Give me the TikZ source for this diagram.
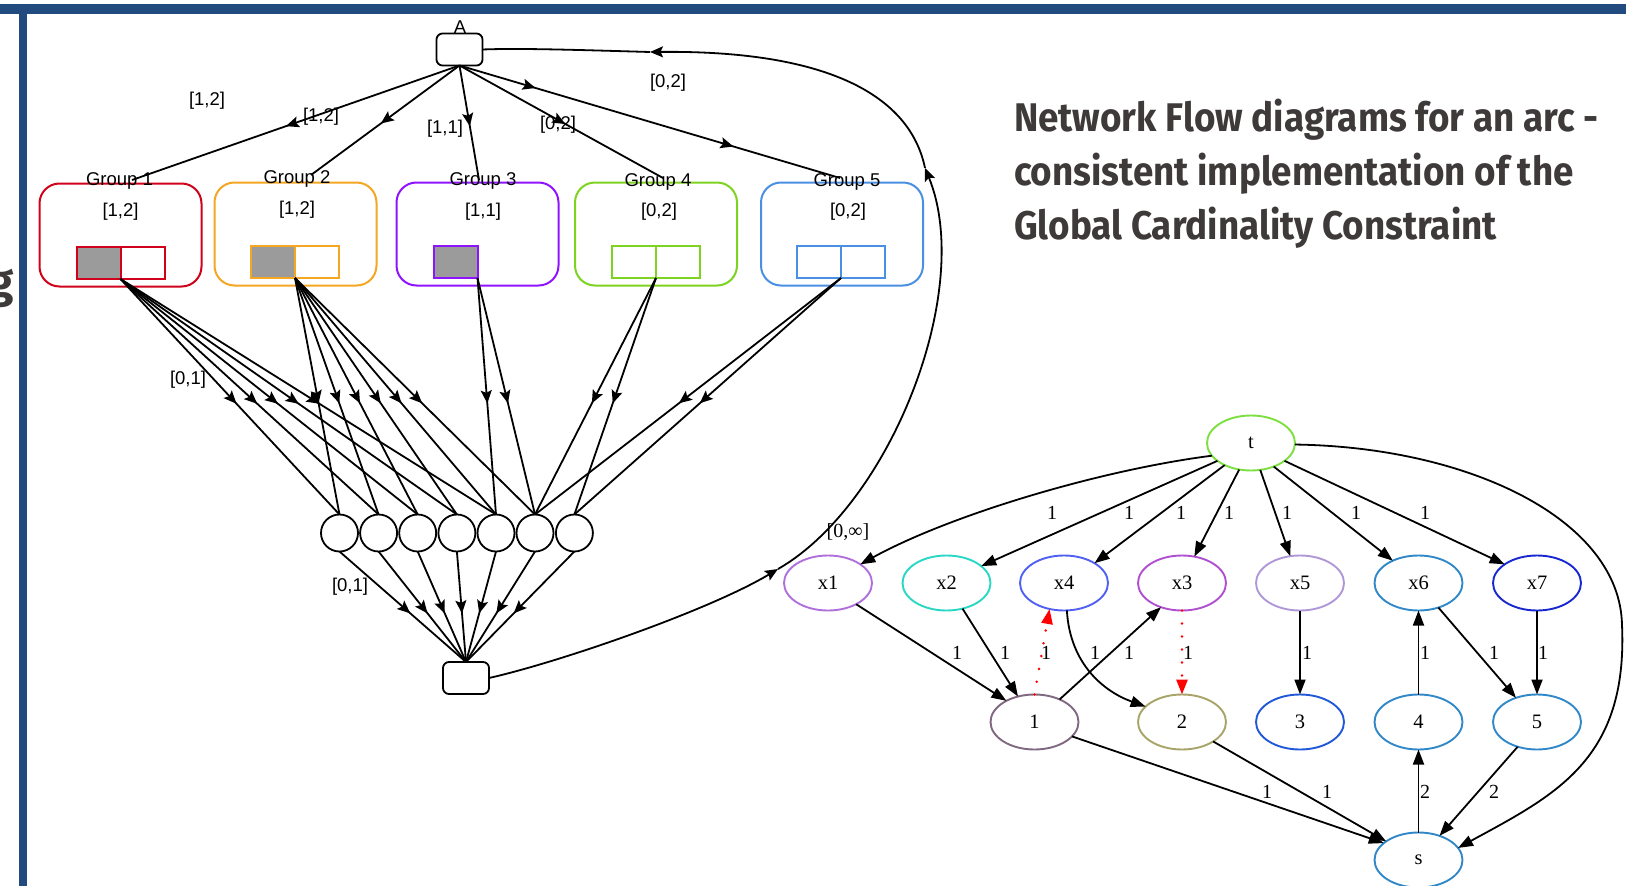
\documentclass[tikz,border=0pt]{standalone}
\usepackage{fontspec}
\setmainfont{Liberation Sans}
\newfontfamily\serifgv{Liberation Serif}
\newfontfamily\headfont{Fira Sans}
\usetikzlibrary{arrows.meta,decorations.markings,shapes.geometric}

\definecolor{framecol}{RGB}{33,74,126}
\definecolor{gone}{RGB}{208,2,27}
\definecolor{gtwo}{RGB}{245,166,35}
\definecolor{gthree}{RGB}{144,19,254}
\definecolor{gfour}{RGB}{126,211,33}
\definecolor{gfive}{RGB}{74,144,226}
\definecolor{cellgray}{RGB}{155,155,155}
\definecolor{titlegray}{RGB}{62,58,57}
\definecolor{ct}{RGB}{124,224,64}
\definecolor{cxone}{RGB}{176,112,220}
\definecolor{cxtwo}{RGB}{40,216,196}
\definecolor{cxfour}{RGB}{80,96,240}
\definecolor{cxthree}{RGB}{176,80,208}
\definecolor{cxfive}{RGB}{176,152,216}
\definecolor{csteel}{RGB}{48,136,200}
\definecolor{cxseven}{RGB}{24,40,208}
\definecolor{cnone}{RGB}{128,104,128}
\definecolor{cntwo}{RGB}{168,164,104}
\definecolor{cnthree}{RGB}{32,88,216}

\begin{document}
\begin{tikzpicture}[x=1pt,y=-1pt,
  every node/.style={inner sep=0pt,outer sep=0pt},
  sanslbl/.style={font=\fontsize{18.5}{18.5}\selectfont},
  grpbox/.style={draw,line width=2pt,rounded corners=20pt,minimum width=162pt,minimum height=103pt},
  cell/.style={draw,line width=2pt,minimum width=44pt,minimum height=32pt},
  vcirc/.style={circle,draw,line width=1.8pt,minimum size=37pt},
  rbox/.style={draw,line width=1.8pt,rounded corners=6pt,minimum width=46pt,minimum height=32pt},
  flow/.style={line width=1.8pt,postaction={decorate},
    decoration={markings,mark=at position #1 with {\arrow{Stealth[length=13pt,width=11pt,inset=2.5pt]}}}},
  flow/.default=0.53,
  flowtwo/.style={line width=1.8pt,postaction={decorate},
    decoration={markings,
      mark=at position 0.2 with {\arrow{Stealth[length=13pt,width=11pt,inset=2.5pt]}},
      mark=at position 0.72 with {\arrow{Stealth[length=13pt,width=11pt,inset=2.5pt]}}}},
  ret/.style={line width=1.8pt,-{Stealth[length=13pt,width=11pt,inset=2.5pt]}},
  plainline/.style={line width=1.8pt},
  gvnode/.style={ellipse,draw,line width=1.9pt,minimum width=88pt,minimum height=55pt,
    font=\serifgv\fontsize{20.5}{20.5}\selectfont},
  gvlbl/.style={font=\serifgv\fontsize{20}{20}\selectfont},
  gvedge/.style={line width=1.8pt,-{Triangle[length=15pt,width=11pt]}},
  reddot/.style={red,line width=2.8pt,line cap=round,dash pattern=on 0pt off 13pt,
    -{Triangle[length=15pt,width=11pt]}},
  titleline/.style={anchor=base west,text=titlegray}
]
\useasboundingbox (0,0) rectangle (1626,886);
\fill[white] (0,0) rectangle (1626,886);

% slide frame
\fill[framecol] (0,4) rectangle (1626,14);
\fill[framecol] (19,14) rectangle (27,886);
\node[anchor=base east,text=titlegray] (gfrag) at (14,297) {\headfont\bfseries\fontsize{46}{46}\selectfont g};

% title
\node[titleline] (title1) at (1014,131) {\scalebox{0.92}[1]{\headfont\bfseries\fontsize{40}{40}\selectfont Network Flow diagrams for an arc -}};
\node[titleline] (title2) at (1014,185) {\scalebox{0.92}[1]{\headfont\bfseries\fontsize{40}{40}\selectfont consistent implementation of the}};
\node[titleline] (title3) at (1014,239) {\scalebox{0.92}[1]{\headfont\bfseries\fontsize{40}{40}\selectfont Global Cardinality Constraint}};

% ---------- left network ----------
\node[rbox] (A) at (459.5,49.5) {};
\node[sanslbl,anchor=base] (Alab) at (460,34) {A};

% groups
\node[grpbox,draw=gone]   (grp1) at (120.5,235) {};
\node[grpbox,draw=gtwo]   (grp2) at (295.5,234) {};
\node[grpbox,draw=gthree] (grp3) at (477.5,234) {};
\node[grpbox,draw=gfour]  (grp4) at (656,234) {};
\node[grpbox,draw=gfive]  (grp5) at (842,234) {};

\node[cell,draw=gone,fill=cellgray] (g1a) at (98.5,263) {};
\node[cell,draw=gone]               (g1b) at (142.5,263) {};
\node[cell,draw=gtwo,fill=cellgray] (g2a) at (273,262) {};
\node[cell,draw=gtwo]               (g2b) at (317,262) {};
\node[cell,draw=gthree,fill=cellgray] (g3a) at (455.5,262) {};
\node[cell,draw=gfour] (g4a) at (634,262) {};
\node[cell,draw=gfour] (g4b) at (678,262) {};
\node[cell,draw=gfive] (g5a) at (819,262) {};
\node[cell,draw=gfive] (g5b) at (863,262) {};

\node[sanslbl] (gl1) at (119.5,181) {Group 1};
\node[sanslbl] (gl2) at (297,179) {Group 2};
\node[sanslbl] (gl3) at (483,181) {Group 3};
\node[sanslbl] (gl4) at (658,182) {Group 4};
\node[sanslbl] (gl5) at (847,182) {Group 5};

\node[sanslbl] (gi1) at (120.5,212) {[1,2]};
\node[sanslbl] (gi2) at (297,210) {[1,2]};
\node[sanslbl] (gi3) at (483,212) {[1,1]};
\node[sanslbl] (gi4) at (659,212) {[0,2]};
\node[sanslbl] (gi5) at (848,212) {[0,2]};

% value nodes and sink
\foreach \i/\x in {1/339.5,2/378.6,3/417.7,4/456.9,5/496,6/535,7/574.4}
  \node[vcirc] (c\i) at (\x,533) {};
\node[rbox] (sink) at (466,678) {};

% source to groups
\coordinate (e1) at (132,180);
\coordinate (e2) at (311,175);
\coordinate (e3) at (479,180);
\coordinate (e4) at (663,178);
\coordinate (e5) at (840,178);
\draw[flow] (A.south) -- (e1);
\draw[flow] (A.south) -- (e2);
\draw[flow] (A.south) -- (e3);
\draw[flow=0.52] (A.south) -- (e4);
\draw[flowtwo] (A.south) -- (e5);

\node[sanslbl] (la1) at (207,101) {[1,2]};
\node[sanslbl] (la2) at (321,117) {[1,2]};
\node[sanslbl] (la3) at (445,129) {[1,1]};
\node[sanslbl] (la4) at (558,125) {[0,2]};
\node[sanslbl] (la5) at (668,83) {[0,2]};

% groups to values
\foreach \i in {1,...,5} \draw[flow] (g1a.south east) -- (c\i.north);
\foreach \i in {1,...,6} \draw[flow] (g2a.south east) -- (c\i.north);
\foreach \i in {5,6} \draw[flow] (g3a.south east) -- (c\i.north);
\foreach \i in {6,7} \draw[flow] (g4a.south east) -- (c\i.north);
\foreach \i in {6,7} \draw[flow] (g5a.south east) -- (c\i.north);
\node[sanslbl] (lv1) at (188,380) {[0,1]};

% values to sink
\foreach \i in {1,...,7} \draw[flow=0.56] (c\i.south) -- (sink.north);
\node[sanslbl] (lv2) at (350,587) {[0,1]};

% return arc from sink to source
\coordinate (rA) at (778,569);
\coordinate (rB) at (925,168);
\coordinate (rC) at (650,52);
\draw[ret] (sink.east) .. controls (560,662) and (710,610) .. (rA);
\draw[ret] (rA) .. controls (890,505) and (975,290) .. (rB);
\draw[ret] (rB) .. controls (912,105) and (845,50) .. (rC);
\draw[plainline] (rC) .. controls (580,50) and (520,48) .. (A.east);
\node[gvlbl] (linf) at (848,532) {[0,∞]};

% ---------- right network ----------
\node[gvnode,draw=ct]      (t)  at (1251,443) {t};
\node[gvnode,draw=cxone]   (x1) at (828,583) {x1};
\node[gvnode,draw=cxtwo]   (x2) at (946.5,583) {x2};
\node[gvnode,draw=cxfour]  (x4) at (1064,583) {x4};
\node[gvnode,draw=cxthree] (x3) at (1182,583) {x3};
\node[gvnode,draw=cxfive]  (x5) at (1300,583) {x5};
\node[gvnode,draw=csteel]  (x6) at (1418.5,583) {x6};
\node[gvnode,draw=cxseven] (x7) at (1537,583) {x7};
\node[gvnode,draw=cnone]   (n1) at (1034.5,722) {1};
\node[gvnode,draw=cntwo]   (n2) at (1182,722) {2};
\node[gvnode,draw=cnthree] (n3) at (1300,722) {3};
\node[gvnode,draw=csteel]  (n4) at (1418.5,722) {4};
\node[gvnode,draw=csteel]  (n5) at (1537,722) {5};
\node[gvnode,draw=csteel]  (s)  at (1418.5,860) {s};

\draw[gvedge] (t.198) .. controls (1100,470) and (950,515) .. (x1.30);
\draw[gvedge] (t.208) -- (x2.26);
\draw[gvedge] (t.220) -- (x4.33);
\draw[gvedge] (t.246) -- (x3.65);
\draw[gvedge] (t.289) -- (x5.110);
\draw[gvedge] (t.314) -- (x6.139);
\draw[gvedge] (t.332) -- (x7.150);
\draw[gvedge] (t.-2) .. controls (1470,447) and (1620,520) .. (1622,625)
  .. controls (1628,760) and (1555,795) .. (s.17);

\draw[gvedge] (x1.-37) -- (n1.143);
\draw[gvedge] (x2.-58) -- (n1.123);
\draw[reddot] (n1.90) -- (x4.241);
\draw[gvedge] (x4.-84) .. controls (1070,665) and (1105,692) .. (n2.157);
\draw[gvedge] (n1.42) -- (x3.229);
\draw[reddot] (x3.south) -- (n2.north);
\draw[gvedge] (x5.south) -- (n3.north);
\draw[gvedge] (n4.north) -- (x6.south);
\draw[gvedge] (x6.-51) -- (n5.131);
\draw[gvedge] (x7.south) -- (n5.north);
\draw[gvedge] (n1.-21) -- (s.154);
\draw[gvedge] (n2.-32) -- (s.150);
\draw[gvedge] (s.north) -- (n4.south);
\draw[gvedge] (n5.232) -- (s.49);

% edge labels
\foreach \nm/\x/\y/\v in {ta/1052/513/1,tb/1129/513/1,tc/1181/513/1,td/1229/513/1,
    te/1287/513/1,tf/1356/513/1,tg/1425/513/1,
    ma/957/653/1,mb/1005/653/1,mc/1046/653/1,md/1095/653/1,me/1129/653/1,
    mf/1188/653/1,mg/1307/653/1,mh/1425/653/1,mi/1494/653/1,mj/1543/653/1,
    sa/1267/792/1,sb/1327/792/1,sc/1425/792/2,sd/1494/792/2}
  \node[gvlbl] (lab\nm) at (\x,\y) {\v};
\end{tikzpicture}
\end{document}
